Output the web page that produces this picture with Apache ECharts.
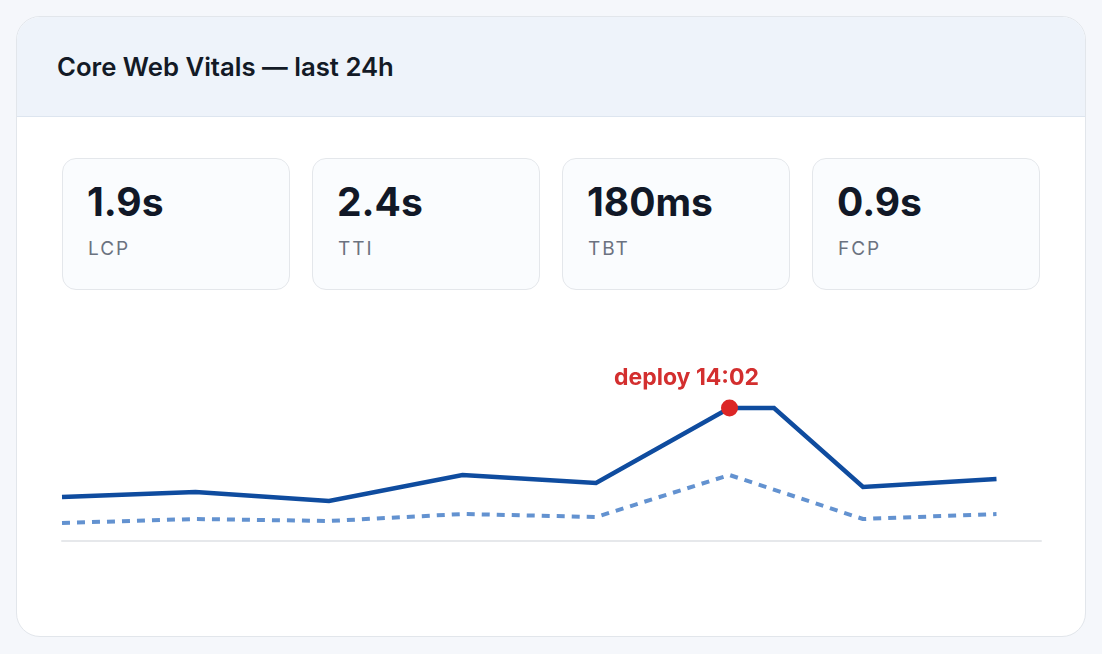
<!DOCTYPE html>
<html>
<head>
<meta charset="utf-8">
<script src="https://cdn.jsdelivr.net/npm/echarts@6/dist/echarts.min.js"></script>
<style>
  html, body { margin: 0; padding: 0; width: 1102px; height: 654px; background: #f5f7fb; font-family: Inter, "Noto Sans", sans-serif; overflow: hidden; }
  .card { position: absolute; left: 16px; top: 16px; width: 1068px; height: 619px; background: #ffffff; border: 1px solid #e2e6eb; border-radius: 24px; overflow: hidden; box-sizing: content-box; }
  .header { position: absolute; left: 0; top: 0; width: 100%; height: 99px; background: #eef3fa; border-bottom: 1px solid #dde5ef; }
  .title { position: absolute; left: 40px; top: 35px; font-size: 25.7px; font-weight: 600; color: #131a26; line-height: 30px; white-space: nowrap; }
  .tile { position: absolute; top: 141px; width: 226px; height: 130px; background: #fafcfe; border: 1px solid #e4e7eb; border-radius: 14px; }
  .tile .v { position: absolute; left: 24px; top: 20px; font-size: 39px; font-weight: 700; color: #111827; line-height: 46px; white-space: nowrap; }
  .tile .l { position: absolute; left: 25px; top: 78px; font-size: 19px; color: #6b7280; letter-spacing: 2px; line-height: 24px; }
  #chart { position: absolute; left: 0; top: 284px; width: 1068px; height: 320px; }
</style>
</head>
<body>
<div class="card">
  <div class="header"><div class="title">Core Web Vitals — last 24h</div></div>
  <div id="tiles"></div>
  <div id="chart"></div>
</div>
<script>
// KPI tiles
var kpiValues = ['1.9s', '2.4s', '180ms', '0.9s'];
var kpiLabels = ['LCP', 'TTI', 'TBT', 'FCP'];

// Line series (x in hours, y in arbitrary units)
var lcpHours  = [0, 3, 6, 9, 12, 15, 16, 18, 21];
var lcpValues = [44, 49, 40, 66, 58, 133, 133, 54, 62];
var fcpHours  = [0, 3, 6, 9, 12, 15, 18, 21];
var fcpValues = [18, 22, 20, 27, 24, 66, 22, 27];

var deployHour = 15;
var deployValue = 133;
var deployLabel = 'deploy 14:02';

var tilesEl = document.getElementById('tiles');
var tileLefts = [45, 295, 545, 795];
kpiValues.forEach(function (v, i) {
  var t = document.createElement('div');
  t.className = 'tile';
  t.style.left = tileLefts[i] + 'px';
  t.innerHTML = '<div class="v">' + v + '</div><div class="l">' + kpiLabels[i] + '</div>';
  tilesEl.appendChild(t);
});

function pairs(xs, ys) { return xs.map(function (x, i) { return [x, ys[i]]; }); }

var chart = echarts.init(document.getElementById('chart'), null, { renderer: 'canvas' });
chart.setOption({
  animation: false,
  grid: { left: 45, top: 40, width: 979, height: 200 },
  xAxis: {
    type: 'value', min: 0, max: 22,
    axisLine: { show: true, lineStyle: { color: '#e6e8eb', width: 2 } },
    axisTick: { show: false }, axisLabel: { show: false }, splitLine: { show: false }
  },
  yAxis: {
    type: 'value', min: 0, max: 200,
    axisLine: { show: false }, axisTick: { show: false }, axisLabel: { show: false }, splitLine: { show: false }
  },
  series: [
    {
      type: 'line', name: 'FCP', data: pairs(fcpHours, fcpValues), symbol: 'none',
      lineStyle: { color: '#6392d0', width: 4, type: [8, 7], cap: 'butt' }, z: 2
    },
    {
      type: 'line', name: 'LCP', data: pairs(lcpHours, lcpValues), symbol: 'none',
      lineStyle: { color: '#0f4c9f', width: 4.5, join: 'miter' }, z: 3
    },
    {
      type: 'scatter', data: [[deployHour, deployValue]], symbolSize: 17,
      itemStyle: { color: '#dc2626', opacity: 1 }, z: 5,
      label: {
        show: true, formatter: deployLabel, position: 'top', offset: [-43, -5],
        color: '#d32f2f', fontSize: 23, fontWeight: 700, fontFamily: 'Inter, sans-serif'
      }
    }
  ]
});
</script>
</body>
</html>
